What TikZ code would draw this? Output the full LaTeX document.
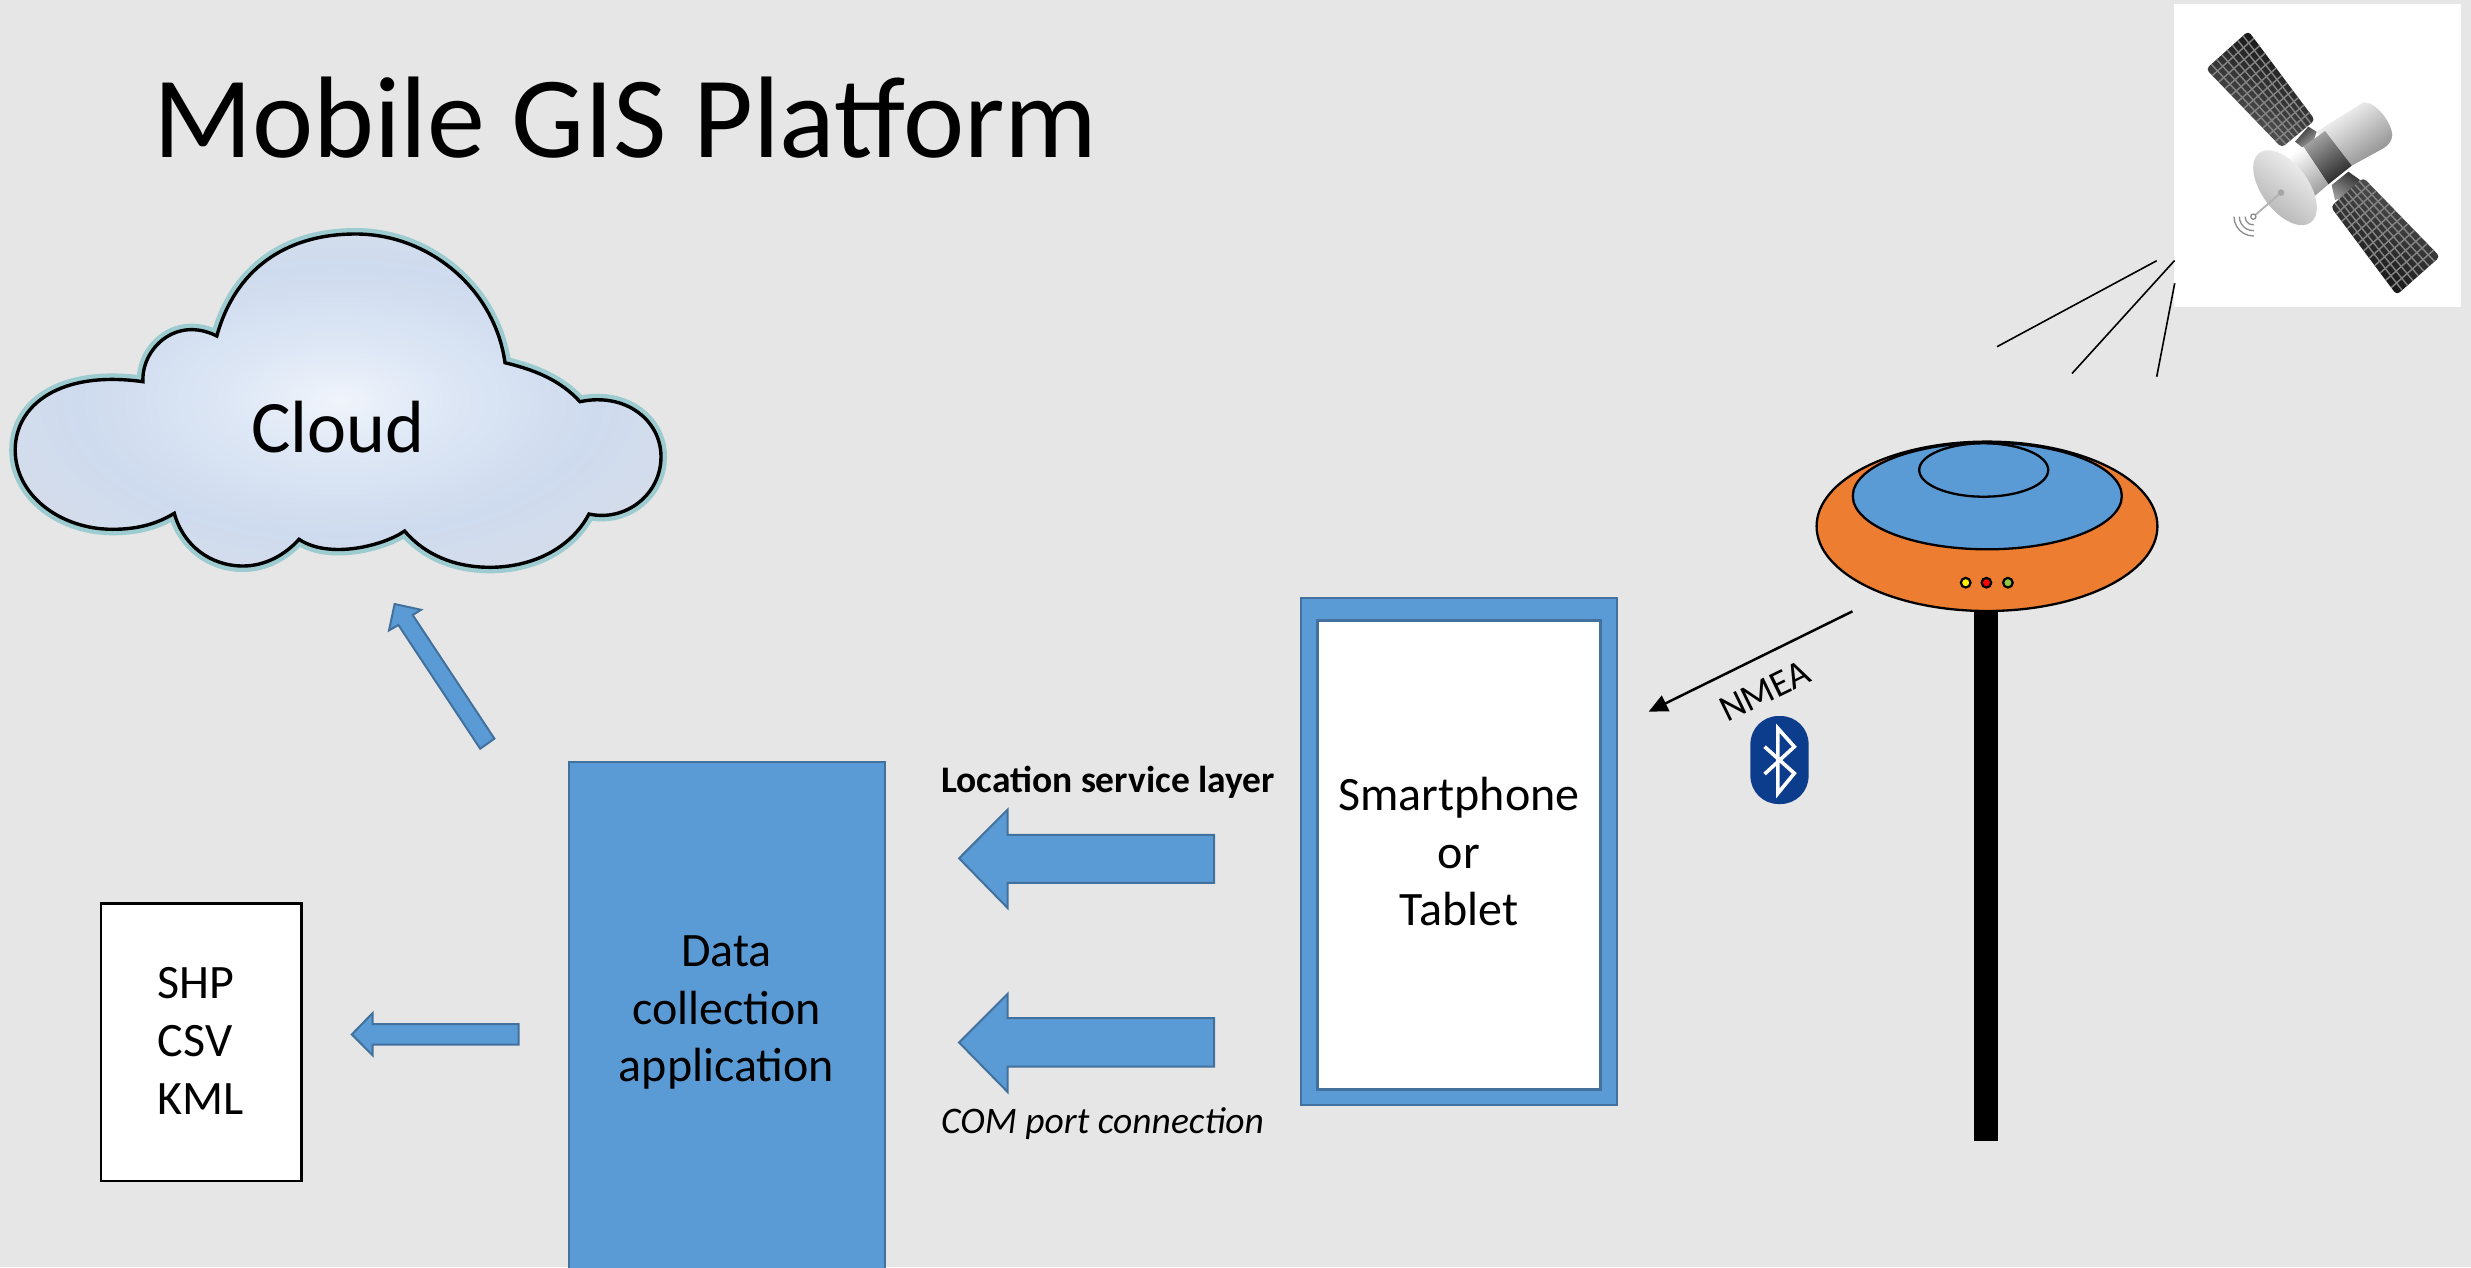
\documentclass[tikz,border=0pt]{standalone}
\usepackage{fontspec}
\setmainfont{Carlito}
\usetikzlibrary{calc,arrows.meta}
\definecolor{bgc}{HTML}{E6E6E6}
\definecolor{blu}{HTML}{5B9BD5}
\definecolor{blud}{HTML}{41719C}
\definecolor{orng}{HTML}{ED7D31}
\definecolor{teal1}{HTML}{9CCBD0}
\definecolor{btb}{HTML}{0C3C8C}
\definecolor{ledg}{HTML}{92C83E}
\definecolor{cl0}{HTML}{F0F4FB}
\definecolor{cl1}{HTML}{DCE6F5}
\definecolor{cl2}{HTML}{CEDBEE}
\definecolor{cl3}{HTML}{D6DDEA}
\definecolor{cl4}{HTML}{E8E8EC}
\pgfdeclareradialshading{cloudshade}{\pgfpoint{0bp}{0bp}}{
 color(0bp)=(cl0);
 color(9bp)=(cl1);
 color(20bp)=(cl2);
 color(30bp)=(cl3);
 color(40bp)=(cl4);
 color(75bp)=(cl4)}
\tikzset{
 blockarrow/.style={fill=blu,draw=blud,line width=2pt,line join=miter},
 boxnode/.style={inner sep=0pt,outer sep=0pt,anchor=north west},
 label48/.style={font=\fontsize{48}{57.6}\selectfont,inner sep=0pt,align=center,text=black},
 small37/.style={inner sep=0pt,text=black},
 signal/.style={draw=black,line width=1.6pt},
 gridline/.style={draw=white!52!black,line width=1.4pt},
 led/.style={draw=black,line width=2.2pt},
 outline/.style={draw=black,line width=2.3pt}
}
\begin{document}
\begin{tikzpicture}[x=1pt,y=-1pt]
\useasboundingbox (0,0) rectangle (2471,1267);
\fill[bgc] (0,0) rectangle (2471,1267);

% title
\node[anchor=base west,inner sep=0pt,font=\fontsize{116}{130}\selectfont] (title) at (153,157.3) {Mobile GIS Platform};

% cloud
\def\cloudpath{(143,381.7) .. controls (141,350) and (175,315) .. (216.8,336)
 .. controls (235,270) and (285,234) .. (355.6,234)
 .. controls (430,234) and (495,290) .. (505,362.7)
 .. controls (535,370) and (560,380) .. (580,401.7)
 .. controls (625,392) and (661,420) .. (661,456.7)
 .. controls (661,495) and (625,522) .. (589,514)
 .. controls (570,550) and (530,567.3) .. (490,567.3)
 .. controls (455,567.3) and (425,555) .. (404.6,531)
 .. controls (385,545) and (330,560) .. (299,539.3)
 .. controls (285,555) and (265,566) .. (243,566)
 .. controls (210,566) and (183,545) .. (174.3,513.3)
 .. controls (155,525) and (135,529.3) .. (112.7,529.3)
 .. controls (60,529.3) and (15.2,495) .. (15.2,450)
 .. controls (15.2,405) and (60,370) .. (143,381.7) -- cycle}
\draw[teal1,line width=12pt,line join=round] \cloudpath;
\shade[shading=cloudshade] \cloudpath;
\draw[black,line width=3.4pt,line join=miter] \cloudpath;
\node[inner sep=0pt,anchor=base,font=\fontsize{74}{80}\selectfont] (cloudlabel) at (338,452) {Cloud};

% arrow to cloud
\draw[blockarrow] (394.6,604) -- (421,609.8) -- (412.7,615) -- (494.4,738.6) -- (480.2,748.7) -- (398.4,625) -- (389,630.4) -- cycle;

% data box
\node[boxnode,fill=blu,draw=blud,line width=2pt,minimum width=315.5pt,minimum height=520pt] (data) at (569,761.9) {};
\node[label48,anchor=center] (datalabel) at (726.5,1012.5) {Data\\collection\\application};

% output box
\node[boxnode,fill=white,draw=black,line width=2.6pt,minimum width=200.4pt,minimum height=277.6pt] (files) at (101,903.4) {};
\node[label48,anchor=center,align=left] (fileslabel) at (201,1041) {SHP\\CSV\\KML};

% arrow to files
\draw[blockarrow] (351.8,1034.4) -- (372.7,1013) -- (372.7,1024) -- (518.6,1024) -- (518.6,1044.5) -- (372.7,1044.5) -- (372.7,1055.4) -- cycle;

% location service / com arrows
\draw[blockarrow] (959.1,858.3) -- (1007.6,809.6) -- (1007.6,834.8) -- (1214,834.8) -- (1214,882.9) -- (1007.6,882.9) -- (1007.6,908) -- cycle;
\draw[blockarrow] (959.1,1042.5) -- (1007.6,993.8) -- (1007.6,1018) -- (1214,1018) -- (1214,1066.7) -- (1007.6,1066.7) -- (1007.6,1092) -- cycle;
\node[small37,anchor=base west,font=\fontsize{37.5}{44}\selectfont\bfseries] (lsl) at (941,792) {Location service layer};
\node[small37,anchor=base west,font=\fontsize{37.5}{44}\selectfont\itshape] (com) at (941,1133.8) {COM port connection};

% phone
\node[boxnode,fill=blu,draw=blud,line width=2pt,minimum width=316pt,minimum height=507pt] (phone) at (1301.3,598.2) {};
\node[boxnode,fill=white,draw=blud,line width=2.6pt,minimum width=283.4pt,minimum height=468.6pt] (screen) at (1317.3,620.7) {};
\node[label48,anchor=center] (phonelabel) at (1459,851.5) {Smartphone\\or\\Tablet};

% antenna
\fill[black] (1974.3,605) rectangle (1997.9,1141);
\filldraw[fill=orng,outline] (1987,526.3) ellipse [x radius=170.4pt,y radius=84.7pt];
\filldraw[fill=blu,outline] (1987.3,496) ellipse [x radius=134.5pt,y radius=53.3pt];
\filldraw[fill=blu,outline] (1983.7,470) ellipse [x radius=64.5pt,y radius=26.7pt];
\filldraw[fill=yellow,led] (1965.7,582.7) circle [radius=4.8pt];
\filldraw[fill=red,led] (1986.4,582.7) circle [radius=4.8pt];
\filldraw[fill=ledg,led] (2007.9,582.7) circle [radius=4.8pt];

% NMEA arrow
\coordinate (nmeaS) at (1852.5,611.3);
\coordinate (nmeaT) at (1648.6,711.7);
\draw[black,line width=2.5pt,-{Triangle[length=19pt,width=17pt]}] (nmeaS) -- (nmeaT);
\node[small37,rotate=26,anchor=center,font=\fontsize{37.5}{44}\selectfont] (nmea) at (1765,691) {NMEA};

% bluetooth
\fill[btb,rounded corners=28pt] (1750.4,716) rectangle (1808.6,804);
\draw[white,line width=3.6pt,line join=miter] (1764.6,746.7) -- (1794.3,773.3) -- (1777.9,793.3) -- (1777.9,728.3) -- (1794.3,746.7) -- (1764.6,774);

% signal lines
\coordinate (s1a) at (2156.7,260.7); \coordinate (s1b) at (1997,346.7);
\coordinate (s2a) at (2174.6,260.5); \coordinate (s2b) at (2072,373.5);
\coordinate (s3a) at (2174.7,283.3); \coordinate (s3b) at (2156.7,376.7);

% satellite image
\fill[white] (2174,4) rectangle (2461,306.7);
\draw[signal] (s1a) -- (s1b);
\draw[signal] (s2a) -- (s2b);
\draw[signal] (s3a) -- (s3b);
\begin{scope}[shift={(2100pt,0pt)},x=0.33333pt,y=-0.33333pt]
 % arms
 \shade[left color=black!80,right color=black!35,shading angle=40] (585,425) -- (625,380) -- (650,395) -- (640,425) -- (610,445) -- cycle;
 \shade[left color=black!80,right color=black!40,shading angle=-30] (695,555) -- (745,515) -- (780,540) -- (735,590) -- (705,600) -- cycle;
 % upper panel
 \coordinate (p1) at (445,93); \coordinate (p2) at (318,207); \coordinate (p3) at (545,443); \coordinate (p4) at (645,360);
 \begin{scope}
  \clip[rounded corners=4pt] (p1) -- (p2) -- (p3) -- (p4) -- cycle;
  \shade[left color=black!95,middle color=black!85,right color=black!62,shading angle=-30] (300,80) rectangle (660,460);
  \foreach \t in {1,...,11}{\draw[gridline] ($(p1)!\t/12!(p4)$) -- ($(p2)!\t/12!(p3)$);}
  \foreach \t in {1,...,7}{\draw[gridline] ($(p1)!\t/8!(p2)$) -- ($(p4)!\t/8!(p3)$);}
 \end{scope}
 % lower panel
 \coordinate (q1) at (790,533); \coordinate (q2) at (692,620); \coordinate (q3) at (890,885); \coordinate (q4) at (1020,770);
 \begin{scope}
  \clip[rounded corners=4pt] (q1) -- (q2) -- (q3) -- (q4) -- cycle;
  \shade[left color=black!65,middle color=black!78,right color=black!95,shading angle=-30] (680,520) rectangle (1030,900);
  \foreach \t in {1,...,11}{\draw[gridline] ($(q1)!\t/12!(q4)$) -- ($(q2)!\t/12!(q3)$);}
  \foreach \t in {1,...,7}{\draw[gridline] ($(q1)!\t/8!(q2)$) -- ($(q4)!\t/8!(q3)$);}
 \end{scope}
 % body
 \shade[top color=white,bottom color=black!45,shading angle=35] (650,395) -- (790,307) .. controls (830,305) and (875,370) .. (877,405) .. controls (875,425) and (865,435) .. (850,445) -- (755,497) -- cycle;
 \shade[top color=black!35,bottom color=black!85,shading angle=35] (610,440) -- (675,393) -- (755,497) -- (685,553) -- cycle;
 \shade[top color=white,bottom color=black!40,shading angle=35] (555,485) -- (610,440) -- (685,553) -- (630,600) -- cycle;
 % dish
 \begin{scope}[shift={(555,563)},rotate=-53.6]
  \shade[top color=black!3,bottom color=black!32,shading angle=-37] (0,0) ellipse [x radius=43.3pt,y radius=23.3pt];
 \end{scope}
 % feed
 \draw[black!30,line width=1.8pt] (543,578) -- (460,650);
 \fill[black!35] (543,578) circle [radius=3.3pt];
 \filldraw[fill=white,draw=black!45,line width=1.3pt] (460,650) circle [radius=2.6pt];
 \foreach \r in {25,42,58}{\draw[black!45,line width=1.3pt] ({460-\r},650) arc [start angle=180,end angle=272,radius=\r*0.33333pt];}
\end{scope}
\end{tikzpicture}
\end{document}
